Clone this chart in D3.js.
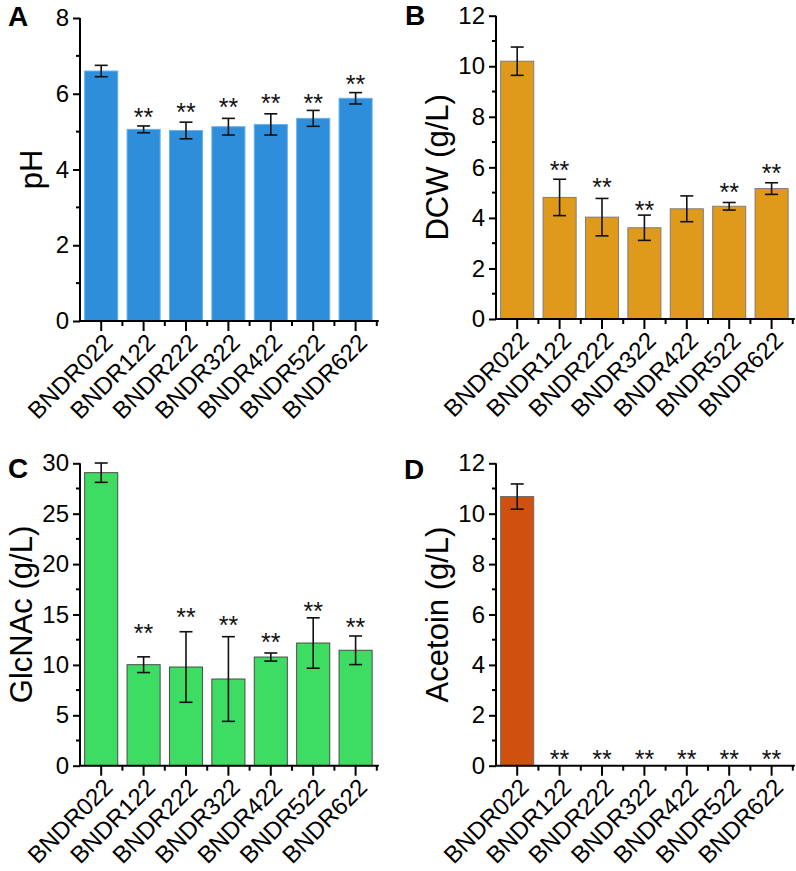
<!DOCTYPE html>
<html>
<head>
<meta charset="utf-8">
<script src="https://cdn.jsdelivr.net/npm/d3@7"></script>
<style>
  html, body { margin: 0; padding: 0; background: #fff; }
  svg { display: block; font-family: "Liberation Sans", Arial, sans-serif; }
</style>
</head>
<body>
<svg id="chart" width="796" height="871"></svg>
<script>
// ---------------- DATA ----------------
const categories = ["BNDR022", "BNDR122", "BNDR222", "BNDR322", "BNDR422", "BNDR522", "BNDR622"];

const phMean = [6.60, 5.06, 5.03, 5.13, 5.19, 5.35, 5.88];
const phErr  = [0.15, 0.09, 0.22, 0.22, 0.28, 0.21, 0.15];
const phStar = [null, 5.52, 5.65, 5.79, 5.90, 5.90, 6.39];

const dcwMean = [10.20, 4.81, 4.03, 3.61, 4.36, 4.46, 5.16];
const dcwErr  = [0.56, 0.72, 0.74, 0.50, 0.51, 0.15, 0.23];
const dcwStar = [null, 6.09, 5.43, 4.51, null, 5.23, 5.98];

const glcMean = [29.07, 10.02, 9.79, 8.60, 10.78, 12.17, 11.45];
const glcErr  = [0.96, 0.78, 3.50, 4.20, 0.40, 2.50, 1.42];
const glcStar = [null, 13.66, 15.28, 14.45, 12.80, 15.87, 14.29];

const acetMean = [10.68, 0, 0, 0, 0, 0, 0];
const acetErr  = [0.50, 0, 0, 0, 0, 0, 0];
const acetStar = [null, 0.49, 0.49, 0.49, 0.49, 0.49, 0.49];

const phTicks   = [0, 2, 4, 6, 8];
const dcwTicks  = [0, 2, 4, 6, 8, 10, 12];
const glcTicks  = [0, 5, 10, 15, 20, 25, 30];
const acetTicks = [0, 2, 4, 6, 8, 10, 12];

// ---------------- PANELS ----------------
const panels = [
  { letter: "A", label: "pH", mean: phMean, err: phErr, star: phStar, ticks: phTicks, max: 8, minorStep: 1,
    x0: 80, y0: 321, yTop: 18, fill: "#2f8ed9", stroke: "#63b2f2", lx: 8, ly: 26, labelX: 34 },
  { letter: "B", label: "DCW (g/L)", mean: dcwMean, err: dcwErr, star: dcwStar, ticks: dcwTicks, max: 12, minorStep: 1,
    x0: 496, y0: 319, yTop: 15.7, fill: "#e09a1b", stroke: "#7d7d7d", lx: 405, ly: 25, labelX: 440 },
  { letter: "C", label: "GlcNAc (g/L)", mean: glcMean, err: glcErr, star: glcStar, ticks: glcTicks, max: 30, minorStep: 2.5,
    x0: 80, y0: 765.7, yTop: 463.3, fill: "#3ddd64", stroke: "#4a4a4a", lx: 8, ly: 478, labelX: 24 },
  { letter: "D", label: "Acetoin (g/L)", mean: acetMean, err: acetErr, star: acetStar, ticks: acetTicks, max: 12, minorStep: 1,
    x0: 496, y0: 765.7, yTop: 463.3, fill: "#d0510f", stroke: "#6a6a6a", lx: 404, ly: 479, labelX: 440 }
];

const svg = d3.select("#chart");
const bandW = 42.4;
const starSize = 25;

panels.forEach(p => {
  const g = svg.append("g");
  const x = d3.scaleBand().domain(categories).range([p.x0, p.x0 + bandW * categories.length]).paddingInner(0.22).paddingOuter(0.11);
  const y = d3.scaleLinear().domain([0, p.max]).range([p.y0, p.yTop]);
  const xEnd = p.x0 + bandW * categories.length + 2;

  // bars
  g.selectAll("rect.bar").data(categories).enter().append("rect")
    .attr("x", d => x(d))
    .attr("width", x.bandwidth())
    .attr("y", (d, i) => y(p.mean[i]))
    .attr("height", (d, i) => p.y0 - y(p.mean[i]))
    .attr("fill", p.fill)
    .attr("stroke", (d, i) => p.mean[i] > 0 ? p.stroke : "none")
    .attr("stroke-width", 1);

  // error bars
  categories.forEach((c, i) => {
    if (!p.err[i]) return;
    const cx = x(c) + x.bandwidth() / 2;
    const hi = y(p.mean[i] + p.err[i]), lo = y(p.mean[i] - p.err[i]);
    const eg = g.append("g").attr("stroke", "#111").attr("stroke-width", 1.6);
    eg.append("line").attr("x1", cx).attr("x2", cx).attr("y1", hi).attr("y2", lo);
    eg.append("line").attr("x1", cx - 6.5).attr("x2", cx + 6.5).attr("y1", hi).attr("y2", hi);
    eg.append("line").attr("x1", cx - 6.5).attr("x2", cx + 6.5).attr("y1", lo).attr("y2", lo);
  });

  // stars
  categories.forEach((c, i) => {
    if (p.star[i] == null) return;
    const cx = x(c) + x.bandwidth() / 2;
    g.append("text")
      .attr("x", cx).attr("y", y(p.star[i]) + 0.57 * starSize)
      .attr("text-anchor", "middle")
      .attr("font-size", starSize)
      .attr("fill", "#111")
      .text("**");
  });

  // y axis
  const yAxis = d3.axisLeft(y).tickValues(p.ticks).tickSize(7).tickPadding(4).tickFormat(d3.format("d"));
  const ya = g.append("g").attr("transform", `translate(${p.x0},0)`).call(yAxis);
  ya.select(".domain").attr("stroke", "#000").attr("stroke-width", 2).attr("d", `M0,${p.y0}V${p.yTop}`);
  ya.selectAll(".tick line").attr("stroke", "#000").attr("stroke-width", 2);
  ya.selectAll(".tick text").attr("font-size", 24).attr("fill", "#000").attr("font-family", "Liberation Sans, Arial, sans-serif");
  // minor y ticks
  const minors = d3.range(p.minorStep, p.max, p.minorStep * 2);
  g.selectAll("line.ymin").data(minors).enter().append("line")
    .attr("x1", p.x0 - 4).attr("x2", p.x0).attr("y1", d => y(d)).attr("y2", d => y(d))
    .attr("stroke", "#000").attr("stroke-width", 2);

  // x axis
  const xa = g.append("g").attr("transform", `translate(0,${p.y0})`).call(d3.axisBottom(x).tickSize(10).tickFormat(""));
  xa.select(".domain").attr("stroke", "#000").attr("stroke-width", 2).attr("d", `M${p.x0 - 1},0H${xEnd}`);
  xa.selectAll(".tick line").attr("stroke", "#000").attr("stroke-width", 2);
  // minor x ticks at band boundaries
  const bounds = d3.range(1, categories.length + 1).map(k => p.x0 + bandW * k);
  g.selectAll("line.xmin").data(bounds).enter().append("line")
    .attr("x1", d => d).attr("x2", d => d).attr("y1", p.y0).attr("y2", p.y0 + 5)
    .attr("stroke", "#000").attr("stroke-width", 2);
  // rotated category labels
  categories.forEach(c => {
    const cx = x(c) + x.bandwidth() / 2;
    g.append("text")
      .attr("transform", `translate(${cx + 13},${p.y0 + 23}) rotate(-45)`)
      .attr("text-anchor", "end")
      .attr("font-size", 24)
      .attr("fill", "#000")
      .text(c);
  });

  // y axis title
  g.append("text")
    .attr("transform", `translate(${p.labelX},${(p.y0 + p.yTop) / 2}) rotate(-90)`)
    .attr("text-anchor", "middle")
    .attr("dominant-baseline", "middle")
    .attr("font-size", 31)
    .attr("fill", "#000")
    .text(p.label);

  // panel letter
  g.append("text")
    .attr("x", p.lx).attr("y", p.ly)
    .attr("font-size", 28).attr("font-weight", "bold").attr("fill", "#000")
    .text(p.letter);
});
</script>
</body>
</html>
